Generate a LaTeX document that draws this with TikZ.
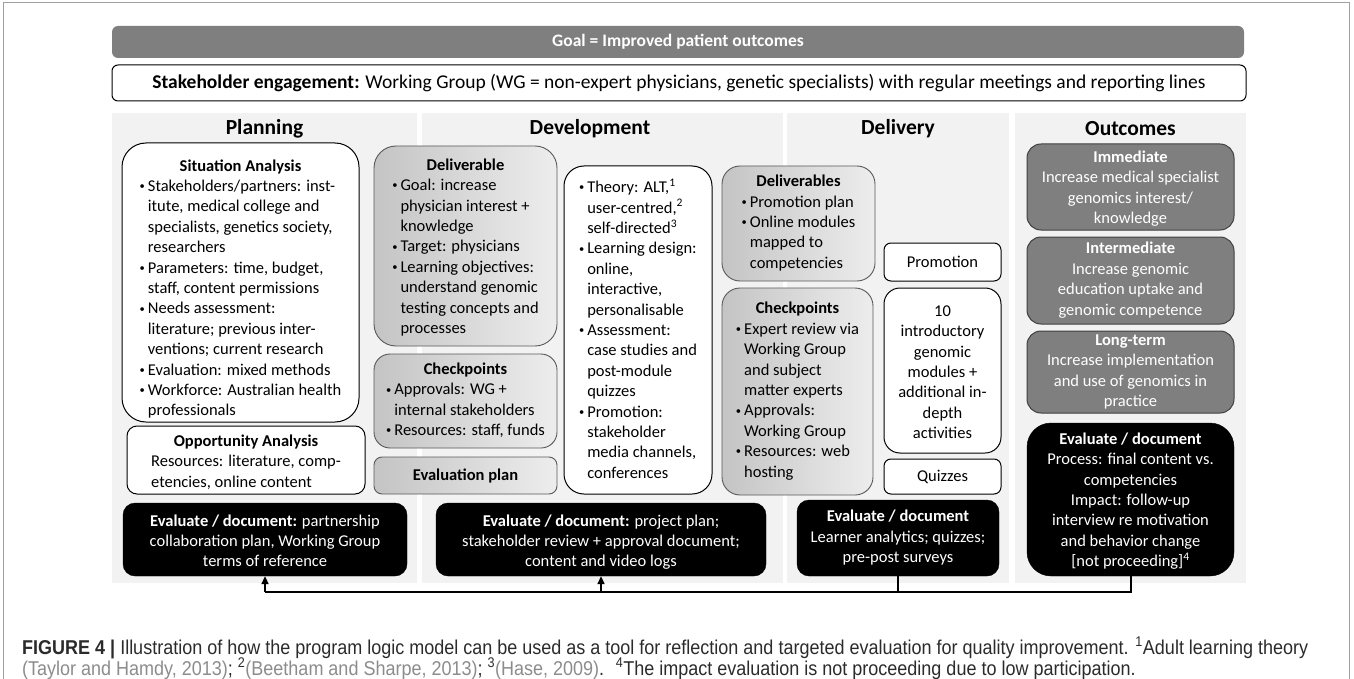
\documentclass[tikz,border=0pt]{standalone}
\usepackage{fontspec}
\setmainfont{Carlito}
\newfontfamily\capfont[FakeStretch=0.9]{Liberation Sans}
\usetikzlibrary{arrows.meta}
\definecolor{colbg}{HTML}{F2F2F2}
\definecolor{midgray}{HTML}{7F7F7F}
\definecolor{gbl}{HTML}{C4C4C4}
\definecolor{gbr}{HTML}{EDEDED}
\definecolor{capdark}{HTML}{2B2B2B}
\definecolor{capgray}{HTML}{8C8C8C}
\definecolor{framegray}{HTML}{A0A0A0}
\newcommand\bul{\makebox[0.5em][l]{\raisebox{1.8pt}{\fontsize{10.5}{10.5}\selectfont•}}}
\newcommand\ind{\hspace*{0.5em}}
\newcommand\ttl[2]{\multicolumn{1}{@{}c@{}}{\rule{0pt}{#1}\bfseries #2}}
\tikzset{
 colbox/.style={fill=colbg, draw=none},
 body/.style={font=\fontsize{16.5}{20.4}\selectfont, inner sep=0pt, align=center},
 coltitle/.style={font=\fontsize{21.5}{24}\selectfont\bfseries, inner sep=0pt},
 wbox/.style={body, draw=black, line width=1pt, fill=white},
 gbox/.style={body, draw=black!65, line width=0.9pt, left color=gbl, right color=gbr},
 obox/.style={body, draw=black!75, line width=1pt, fill=midgray, text=white},
 ebox/.style={body, fill=black, draw=black, text=white},
 conn/.style={line width=2pt, draw=black},
 tip/.style={-{Triangle[length=8pt,width=7pt]}},
 captext/.style={anchor=base west, inner sep=0pt, text=capdark, font=\capfont\fontsize{20}{24}\selectfont}
}
\begin{document}
\begin{tikzpicture}[x=1pt,y=-1pt]
\useasboundingbox (0,0) rectangle (1354,679);
\draw[framegray, line width=1pt] (3,679) -- (3,2.5) -- (1349,2.5) -- (1349,679);
% top bars
\node[fill=midgray, rounded corners=6pt, minimum width=1132pt, minimum height=32pt, inner sep=0pt,
  text=white, font=\fontsize{17.5}{20}\selectfont\bfseries] (goal) at (678,42) {Goal = Improved patient outcomes};
\node[draw=black, line width=1pt, fill=white, rounded corners=6pt, minimum width=1134pt, minimum height=36pt, inner sep=0pt,
  font=\fontsize{19.5}{22}\selectfont] (stake) at (679,83) {\textbf{Stakeholder engagement:} Working Group (WG = non-expert physicians, genetic specialists) with regular meetings and reporting lines};
% column backgrounds
\path[colbox] (112,113) rectangle (417,583);
\path[colbox] (422,113) rectangle (783,583);
\path[colbox] (787,113) rectangle (1009,583);
\path[colbox] (1015,113) rectangle (1246,583);
\node[coltitle] (tplan) at (264.5,129) {Planning};
\node[coltitle] (tdev) at (590,129) {Development};
\node[coltitle] (tdel) at (898,129) {Delivery};
\node[coltitle] (tout) at (1130.5,129) {Outcomes};
% Planning
\node[wbox, rounded corners=24pt, minimum width=237pt, minimum height=279pt] (sit) at (240.5,282.5) {\begin{tabular}{@{}l@{}}
\ttl{28pt}{Situation Analysis}\\
\bul Stakeholders/partners: inst-\\
\ind itute, medical college and\\
\ind specialists, genetics society,\\
\ind researchers\\
\bul Parameters: time, budget,\\
\ind staff, content permissions\\
\bul Needs assessment:\\
\ind literature; previous inter-\\
\ind ventions; current research\\
\bul Evaluation: mixed methods\\
\bul Workforce: Australian health\\
\ind professionals
\end{tabular}};
\node[wbox, rounded corners=10pt, minimum width=238pt, minimum height=68pt] (opp) at (246,460) {\begin{tabular}{@{}l@{}}
\ttl{20pt}{Opportunity Analysis}\\
Resources: literature, comp-\\
etencies, online content
\end{tabular}};
\node[ebox, rounded corners=12pt, minimum width=284pt, minimum height=73pt] (planeval) at (265,539.5) {\begin{tabular}{@{}c@{}}
\rule{0pt}{20pt}\textbf{Evaluate / document:} partnership\\
collaboration plan, Working Group\\
terms of reference
\end{tabular}};
% Development
\node[gbox, rounded corners=22pt, minimum width=183pt, minimum height=200pt] (deliv) at (465.5,246) {\begin{tabular}{@{}l@{}}
\ttl{18pt}{Deliverable}\\
\bul Goal: increase\\
\ind physician interest +\\
\ind knowledge\\
\bul Target: physicians\\
\bul Learning objectives:\\
\ind understand genomic\\
\ind testing concepts and\\
\ind processes
\end{tabular}};
\node[gbox, rounded corners=16pt, minimum width=183pt, minimum height=94pt] (chk1) at (465.5,401) {\begin{tabular}{@{}l@{}}
\ttl{0pt}{Checkpoints}\\
\bul Approvals: WG +\\
\ind internal stakeholders\\
\bul Resources: staff, funds
\end{tabular}};
\node[gbox, rounded corners=8pt, minimum width=183pt, minimum height=37pt, font=\fontsize{16.5}{20.4}\selectfont\bfseries] (evalplan) at (465.5,475.5) {Evaluation plan};
\node[wbox, rounded corners=20pt, minimum width=148pt, minimum height=328pt] (theory) at (638,330) {\begin{tabular}{@{}l@{}}
\rule{0pt}{17pt}\bul Theory: ALT,\textsuperscript{1}\\
\ind user-centred,\textsuperscript{2}\\
\ind self-directed\textsuperscript{3}\\
\bul Learning design:\\
\ind online,\\
\ind interactive,\\
\ind personalisable\\
\bul Assessment:\\
\ind case studies and\\
\ind post-module\\
\ind quizzes\\
\bul Promotion:\\
\ind stakeholder\\
\ind media channels,\\
\ind conferences
\end{tabular}};
\node[ebox, rounded corners=12pt, minimum width=330pt, minimum height=73pt] (deveval) at (601,539.5) {\begin{tabular}{@{}c@{}}
\rule{0pt}{20pt}\textbf{Evaluate / document:} project plan;\\
stakeholder review + approval document;\\
content and video logs
\end{tabular}};
% Delivery
\node[gbox, rounded corners=18pt, minimum width=153pt, minimum height=115pt] (delivs) at (798.5,223.5) {\begin{tabular}{@{}l@{}}
\ttl{0pt}{Deliverables}\\
\bul Promotion plan\\
\bul Online modules\\
\ind mapped to\\
\ind competencies
\end{tabular}};
\node[gbox, rounded corners=18pt, minimum width=151pt, minimum height=207pt] (chk2) at (797.5,391.5) {\begin{tabular}{@{}l@{}}
\ttl{0pt}{Checkpoints}\\
\bul Expert review via\\
\ind Working Group\\
\ind and subject\\
\ind matter experts\\
\bul Approvals:\\
\ind Working Group\\
\bul Resources: web\\
\ind hosting
\end{tabular}};
\node[wbox, rounded corners=7pt, minimum width=117pt, minimum height=38pt] (promo) at (942.5,262) {Promotion};
\node[wbox, rounded corners=16pt, minimum width=117pt, minimum height=165pt] (mods) at (942.5,370.5) {\begin{tabular}{@{}c@{}}
\rule{0pt}{20pt}10\\ introductory\\ genomic\\ modules +\\ additional in-\\ depth\\ activities
\end{tabular}};
\node[wbox, rounded corners=7pt, minimum width=117pt, minimum height=35pt] (quiz) at (942.5,476.5) {Quizzes};
\node[ebox, rounded corners=12pt, minimum width=202pt, minimum height=76pt] (deleval) at (898,538) {\begin{tabular}{@{}c@{}}
\textbf{Evaluate / document}\\
Learner analytics; quizzes;\\
pre-post surveys
\end{tabular}};
% Outcomes
\node[obox, rounded corners=14pt, minimum width=207pt, minimum height=86pt] (imm) at (1130.5,187) {\begin{tabular}{@{}c@{}}
\rule{0pt}{18pt}\textbf{Immediate}\\ Increase medical specialist\\ genomics interest/\\ knowledge
\end{tabular}};
\node[obox, rounded corners=14pt, minimum width=207pt, minimum height=87pt] (inter) at (1130.5,280.5) {\begin{tabular}{@{}c@{}}
\textbf{Intermediate}\\ Increase genomic\\ education uptake and\\ genomic competence
\end{tabular}};
\node[obox, rounded corners=14pt, minimum width=207pt, minimum height=82pt] (long) at (1130.5,372) {\begin{tabular}{@{}c@{}}
\textbf{Long-term}\\ Increase implementation\\ and use of genomics in\\ practice
\end{tabular}};
\node[ebox, rounded corners=24pt, minimum width=207pt, minimum height=153pt] (outeval) at (1130.5,499.5) {\begin{tabular}{@{}c@{}}
\rule{0pt}{18pt}\textbf{Evaluate / document}\\ Process: final content vs.\\ competencies\\ Impact: follow-up\\ interview re motivation\\ and behavior change\\ {[}not proceeding{]}\textsuperscript{4}
\end{tabular}};
% connectors
\coordinate (bus) at (0,592);
\draw[conn] (outeval.south) |- (bus -| planeval.south);
\draw[conn] (deleval.south) -- (deleval.south |- bus);
\draw[conn,tip] (bus -| planeval.south) -- (planeval.south);
\draw[conn,tip] (bus -| deveval.south) -- (deveval.south);
% caption
\node[captext] (cap1) at (22,654)
 {\textbf{FIGURE 4 |} Illustration of how the program logic model can be used as a tool for reflection and targeted evaluation for quality improvement. \textsuperscript{1}Adult learning theory};
\node[captext] (cap2) at (22,675)
 {{\color{capgray}(Taylor and Hamdy, 2013)}; \textsuperscript{2}{\color{capgray}(Beetham and Sharpe, 2013)}; \textsuperscript{3}{\color{capgray}(Hase, 2009)}.~ \textsuperscript{4}The impact evaluation is not proceeding due to low participation.};
\end{tikzpicture}
\end{document}
